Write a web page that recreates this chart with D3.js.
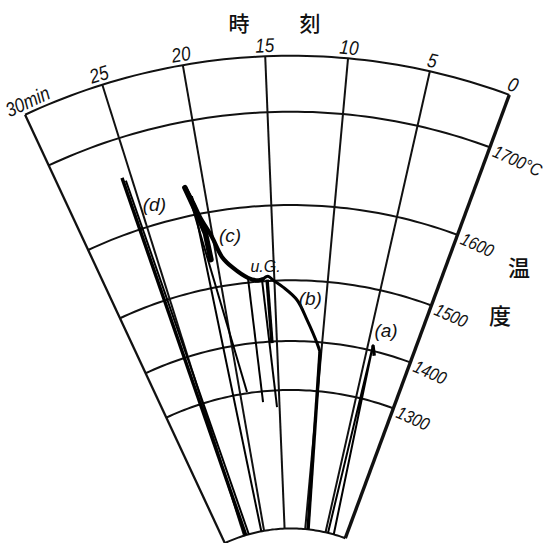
<!DOCTYPE html>
<html>
<head>
<meta charset="utf-8">
<script src="https://cdn.jsdelivr.net/npm/d3@7"></script>
<style>
  html, body { margin: 0; padding: 0; background: #fff; }
  svg { display: block; }
  text { fill: #111; }
  .lettering { font-family: "Liberation Sans", "DejaVu Sans", sans-serif; font-style: italic; }
  .kanji { font-family: "Noto Sans CJK JP", "Noto Sans CJK SC", sans-serif; font-weight: 500; }
</style>
</head>
<body>
<svg id="chart" width="550" height="543"></svg>
<script>
// Time axis (minutes) around the fan, temperature (°C) outward from the hub
const timeTicks = [0, 5, 10, 15, 20, 25, 30];
const timeLabels = ["0", "5", "10", "15", "20", "25", "30min"];
const tempTicks = [1300, 1400, 1500, 1600, 1700];
const tempLabels = ["1300", "1400", "1500", "1600", "1700°C"];
const rimTemps = [772, 1751];           // inner and outer rim of the chart paper

// Continuous cooling record: (c) -> u.G. -> (b)
const coolingTime = [21.42, 21.05, 20.73, 20.07, 19.51, 18.7, 17.44, 16.53, 16.1, 15.58, 15.13, 14.2, 12.85, 11.78, 10.56, 10.15];
const coolingTemp = [1633, 1615, 1596, 1569, 1541, 1524, 1507, 1502, 1503, 1507, 1501, 1490, 1470, 1438, 1398, 1382];

// Heavy head of the (c) record
const headOfC = [[21.42, 1633], [20.9, 1600], [20.55, 1575], [20.5, 1540]];

// Immersion dips: pen strokes from the rim up to the reading and back
const heavyDips = [
  [[24.57, 772], [25.65, 1661]],                 // (d)
  [[10.15, 1382], [9.3, 772]],                   // end of (b)
  [[15.68, 1502], [15.55, 1397]],                // at u.G.
  [[4.46, 1410], [4.05, 1392]]                   // (a)
];
const lightDips = [
  [[25.45, 1657], [23.8, 772]],
  [[21.26, 1627], [19.1, 1303]],
  [[21.03, 1622], [20.69, 772]],
  [[17.44, 1507], [17.18, 1275]],
  [[16.15, 1502], [15.35, 1260]],
  [[2.95, 772], [4.46, 1410], [4.39, 772]]
];

// Trace names and where they sit (time, temperature)
const traceNames = ["(a)", "(b)", "(c)", "(d)", "u.G."];
const traceNameAt = [[3.5, 1440], [11.55, 1474], [18.55, 1568], [23.95, 1623], [15.75, 1521]];

const deg = Math.PI / 180;
const cx = 291, cy = 685;

const angle = d3.scaleLinear().domain([0, 30]).range([20.3 * deg, -25.0 * deg]);
const growth = d3.scaleLinear().domain([0, 1]).range([91, 295]);
const radius = T => growth(Math.pow(1.24, (T - 1300) / 100));
const pos = (t, T) => [radius(T) * Math.sin(angle(t)), -radius(T) * Math.cos(angle(t))];

const svg = d3.select("#chart");
const g = svg.append("g").attr("transform", `translate(${cx},${cy})`);

const radial = d3.lineRadial()
  .angle(d => angle(d[0]))
  .radius(d => radius(d[1]));

// Concentric temperature rings
const ringTemps = [rimTemps[0], ...tempTicks, rimTemps[1]];
const sweep = d3.range(0, 30.001, 0.5);
g.selectAll("path.ring").data(ringTemps).join("path")
  .attr("class", "ring")
  .attr("d", T => radial(sweep.map(t => [t, T])))
  .attr("fill", "none").attr("stroke", "#111").attr("stroke-width", 2);

// Time spokes
g.selectAll("path.spoke").data(timeTicks).join("path")
  .attr("class", "spoke")
  .attr("d", t => radial([[t, rimTemps[0]], [t, rimTemps[1]]]))
  .attr("fill", "none").attr("stroke", "#111")
  .attr("stroke-width", t => t === 0 ? 3.4 : (t === 30 ? 2.3 : 2));

// Recorded traces
const smooth = d3.lineRadial().angle(d => angle(d[0])).radius(d => radius(d[1])).curve(d3.curveCatmullRom);
const straight = d3.lineRadial().angle(d => angle(d[0])).radius(d => radius(d[1]));
const cooling = coolingTime.map((t, i) => [t, coolingTemp[i]]);

g.append("path")
  .attr("d", smooth(cooling.slice(0, 9)))
  .attr("fill", "none").attr("stroke", "#000").attr("stroke-width", 4.2)
  .attr("stroke-linecap", "round").attr("stroke-linejoin", "round");
g.append("path")
  .attr("d", smooth(cooling.slice(8)))
  .attr("fill", "none").attr("stroke", "#000").attr("stroke-width", 3)
  .attr("stroke-linecap", "round").attr("stroke-linejoin", "round");
g.append("path")
  .attr("d", straight(headOfC))
  .attr("fill", "none").attr("stroke", "#000").attr("stroke-width", 5.5)
  .attr("stroke-linecap", "round").attr("stroke-linejoin", "round");

g.selectAll("path.heavy").data(heavyDips).join("path")
  .attr("class", "heavy")
  .attr("d", straight)
  .attr("fill", "none").attr("stroke", "#000").attr("stroke-width", 3.4)
  .attr("stroke-linejoin", "round");
g.selectAll("path.light").data(lightDips).join("path")
  .attr("class", "light")
  .attr("d", straight)
  .attr("fill", "none").attr("stroke", "#000").attr("stroke-width", 2)
  .attr("stroke-linejoin", "round");

// Time labels along the outer rim
const outerR = radius(rimTemps[1]);
timeTicks.forEach((t, i) => {
  const a = angle(t);
  const isEnd = i === timeTicks.length - 1;
  const r = outerR + 4;
  const x = r * Math.sin(a), y = -r * Math.cos(a);
  g.append("text")
    .attr("class", "lettering")
    .attr("transform", `translate(${x},${y}) rotate(${a / deg}) scale(0.85,1)`)
    .attr("x", isEnd ? -18 : 0)
    .attr("text-anchor", isEnd ? "start" : "middle")
    .attr("font-size", 20)
    .text(timeLabels[i]);
});

// Temperature labels beside the right edge
tempTicks.forEach((T, i) => {
  const [x, y] = pos(0, T);
  g.append("text")
    .attr("class", "lettering")
    .attr("transform", `translate(${x},${y}) rotate(${angle(0) / deg + 4}) scale(0.85,1)`)
    .attr("x", 6).attr("dy", "0.4em")
    .attr("font-size", 18)
    .text(tempLabels[i]);
});

// Trace names
traceNames.forEach((name, i) => {
  const [x, y] = pos(traceNameAt[i][0], traceNameAt[i][1]);
  g.append("text")
    .attr("class", "lettering")
    .attr("x", x).attr("y", y)
    .attr("text-anchor", "middle").attr("dy", "0.35em")
    .attr("font-size", name === "u.G." ? 16 : 19)
    .text(name);
});

// Axis titles
svg.append("text").attr("class", "kanji").attr("x", 239).attr("y", 31)
  .attr("text-anchor", "middle").attr("font-size", 21).text("時");
svg.append("text").attr("class", "kanji").attr("x", 310).attr("y", 31)
  .attr("text-anchor", "middle").attr("font-size", 21).text("刻");
svg.append("text").attr("class", "kanji").attr("x", 519).attr("y", 276)
  .attr("text-anchor", "middle").attr("font-size", 22).text("温");
svg.append("text").attr("class", "kanji").attr("x", 500).attr("y", 324)
  .attr("text-anchor", "middle").attr("font-size", 22).text("度");
</script>
</body>
</html>
